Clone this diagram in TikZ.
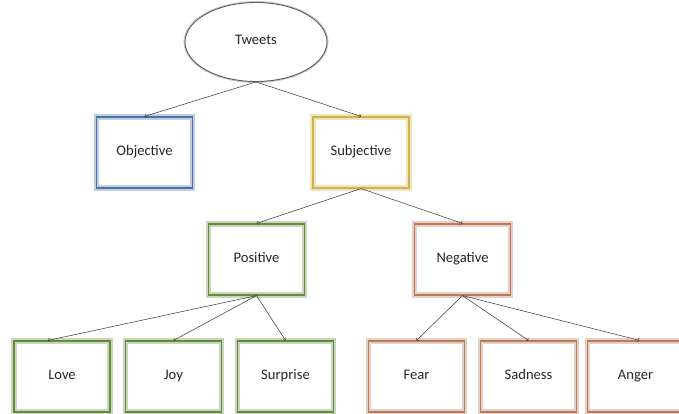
\documentclass[tikz,border=0pt]{standalone}
\usepackage{fontspec}
\setmainfont{Carlito}
\usetikzlibrary{arrows,shapes.geometric}
\definecolor{objblue}{HTML}{4A72A8}
\definecolor{subgold}{HTML}{CFB24A}
\definecolor{posgreen}{HTML}{648A3C}
\definecolor{negorange}{HTML}{B87A58}

\begin{document}
\begin{tikzpicture}[x=1pt,y=-1pt,
        every node/.style={font=\fontsize{14.6}{17}\selectfont, text=black!85,
            text height=9pt, text depth=3pt},
        catbox/.style={preaction={fill=white}, draw=#1!35, line width=5.5pt,
            postaction={draw=#1, line width=1.5pt},
            minimum width=96pt, minimum height=71pt, inner sep=0pt, outer sep=0.6pt},
        rootnode/.style={ellipse, draw=black!65, line width=0.9pt, fill=white,
            preaction={draw=black!20, line width=3pt},
            minimum width=142pt, minimum height=79pt},
        link/.style={->, draw=black!75, line width=0.55pt}]
        %\draw[help lines] (0,0) grid[step=50pt] (679,414);
        \clip[use as bounding box] (0,0) rectangle (679,414);

        \node[rootnode] (tweets) at (256,42) {Tweets};

        \node[catbox=objblue] (objective) at (144.5,152.5) {Objective};
        \node[catbox=subgold] (subjective) at (361,152.5) {Subjective};

        \node[catbox=posgreen] (positive) at (256.5,259.5) {Positive};
        \node[catbox=negorange] (negative) at (462.5,259.5) {Negative};

        \node[catbox=posgreen] (love) at (62,376.5) {Love};
        \node[catbox=posgreen] (joy) at (173.5,376.5) {Joy};
        \node[catbox=posgreen] (surprise) at (285.5,376.5) {Surprise};
        \node[catbox=negorange] (fear) at (416.5,376.5) {Fear};
        \node[catbox=negorange] (sadness) at (528.5,376.5) {Sadness};
        \node[catbox=negorange] (anger) at (635.5,376.5) {Anger};

        \draw[link] (tweets.south) -- (objective.north);
        \draw[link] (tweets.south) -- (subjective.north);
        \draw[link] (subjective.south) -- (positive.north);
        \draw[link] (subjective.south) -- (negative.north);

        \draw[link] (positive.south) -- ([xshift=-14pt]love.north);
        \draw[link] (positive.south) -- (joy.north);
        \draw[link] (positive.south) -- (surprise.north);

        \draw[link] (negative.south) -- (fear.north);
        \draw[link] (negative.south) -- (sadness.north);
        \draw[link] (negative.south) -- ([xshift=4pt]anger.north);
\end{tikzpicture}
\end{document}
